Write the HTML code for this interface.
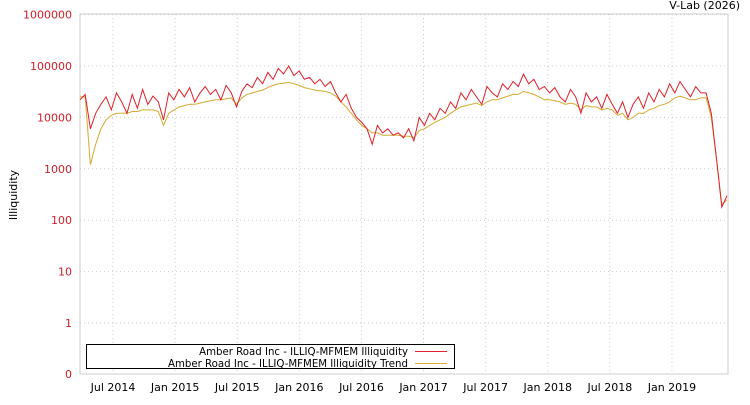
<!DOCTYPE html>
<html><head><meta charset="utf-8"><style>
body{margin:0;background:#fff;font-family:"Liberation Sans","DejaVu Sans",sans-serif}
svg text{font-family:"DejaVu Sans","Liberation Sans",sans-serif;font-size:11px}
</style></head><body>
<svg id="c" width="750" height="400" xmlns="http://www.w3.org/2000/svg"></svg>
<script>
const yTicks=[1000000,100000,10000,1000,100,10,1];
const yTickLabels=["1000000","100000","10000","1000","100","10","1"];
const xTickLabels=["Jul 2014","Jan 2015","Jul 2015","Jan 2016","Jul 2016","Jan 2017","Jul 2017","Jan 2018","Jul 2018","Jan 2019"];
const xTickMonths=[3,9,15,21,27,33,39,45,51,57];
const illiquidity=[22000,28000,6000,12000,18000,25000,14000,30000,20000,12000,28000,15000,35000,18000,26000,20000,9000,30000,22000,35000,25000,38000,20000,30000,40000,28000,35000,22000,42000,30000,16000,32000,45000,38000,60000,45000,75000,55000,90000,70000,100000,65000,80000,55000,60000,45000,55000,40000,50000,30000,20000,28000,15000,10000,8000,6000,3000,7000,5000,6000,4500,5000,4000,6000,3500,10000,7000,12000,9000,15000,12000,20000,15000,30000,22000,35000,25000,18000,40000,30000,25000,45000,35000,50000,40000,70000,45000,55000,35000,40000,30000,38000,25000,20000,35000,25000,12000,30000,20000,25000,15000,28000,18000,12000,20000,10000,18000,25000,15000,30000,20000,35000,25000,45000,30000,50000,35000,25000,40000,30000,30000,12000,1500,180,300];
const trend=[25000,25000,1200,3000,6000,9000,11000,12000,12000,12000,13000,13000,14000,14000,14000,13000,7000,12000,14000,16000,17000,18000,18000,19000,20000,21000,22000,22000,23000,24000,18000,24000,28000,30000,32000,34000,38000,42000,45000,46000,48000,45000,42000,38000,36000,34000,33000,32000,30000,26000,20000,16000,12000,9000,7000,6000,5000,5000,4500,4500,4500,4500,4300,4300,4000,5500,6000,7000,8000,9000,10000,12000,14000,16000,17000,18000,19000,17000,20000,22000,22000,24000,26000,28000,28000,32000,30000,28000,25000,22000,22000,21000,20000,18000,19000,18000,14000,17000,16000,16000,14000,15000,14000,11000,12000,9000,10000,12000,12000,14000,15000,17000,18000,20000,24000,26000,24000,22000,22000,24000,24000,10000,1500,200,250];
const NS="http://www.w3.org/2000/svg";
const svg=document.getElementById('c');
const L=80,R=728,T=14,B=374;
const monthPx=10.35, x0Month=0;
function xM(m){return L+2+(m-x0Month)*monthPx;}
function xI(i){return L+i*(R-1-L)/(illiquidity.length-1);}
function y(v){v=Math.max(v,0.1);return 323-51.4*Math.log10(v);}
function el(t,a,txt){const e=document.createElementNS(NS,t);for(const k in a)e.setAttribute(k,a[k]);if(txt!=null)e.textContent=txt;svg.appendChild(e);return e;}
let e;
e=el('rect',{x:L,y:T,width:R-L,height:B-T,fill:'#fff',stroke:'#ccc'});


yTicks.forEach((v,i)=>{
 const g=el('line',{x1:L,x2:R,y1:y(v),y2:y(v),stroke:'#ccc','stroke-dasharray':'1,3'});
 
 
 const t=el('text',{x:72,y:y(v)+4,'text-anchor':'end',fill:'#d0202a'},yTickLabels[i]);
 
 
});
e=el('text',{x:72,y:B+4,'text-anchor':'end',fill:'#d0202a'},'0');


xTickMonths.forEach((m,i)=>{
 const g=el('line',{x1:xM(m),x2:xM(m),y1:T,y2:B,stroke:'#ccc','stroke-dasharray':'1,3'});
 
 
 const t=el('text',{x:xM(m),y:391,'text-anchor':'middle',fill:'#000'},xTickLabels[i]);
 
 
});
function line(arr,col,name){
 const d=arr.map((v,i)=>(i?'L':'M')+xI(i).toFixed(1)+','+y(v).toFixed(1)).join('');
 const p=el('path',{d:d,fill:'none',stroke:col,'stroke-width':1});
 
 
}
line(trend,'#d4aa30','trend-line');
line(illiquidity,'#e0202a','illiquidity-line');
e=el('text',{x:17,y:195,'text-anchor':'middle',transform:'rotate(-90 17 195)',fill:'#000'},'Illiquidity');


e=el('text',{x:740,y:9,'text-anchor':'end',fill:'#000'},'V-Lab (2026)');


e=el('rect',{x:86.5,y:344.5,width:368,height:24,fill:'#fff',stroke:'#000'});


e=el('text',{x:408,y:355,'text-anchor':'end',fill:'#000',style:'font-size:10.2px'},'Amber Road Inc - ILLIQ-MFMEM Illiquidity');


e=el('line',{x1:415,x2:447,y1:351.5,y2:351.5,stroke:'#e0202a'});


e=el('text',{x:408,y:367,'text-anchor':'end',fill:'#000',style:'font-size:10.2px'},'Amber Road Inc - ILLIQ-MFMEM Illiquidity Trend');


e=el('line',{x1:415,x2:447,y1:363.5,y2:363.5,stroke:'#d4aa30'});


</script>
</body></html>
